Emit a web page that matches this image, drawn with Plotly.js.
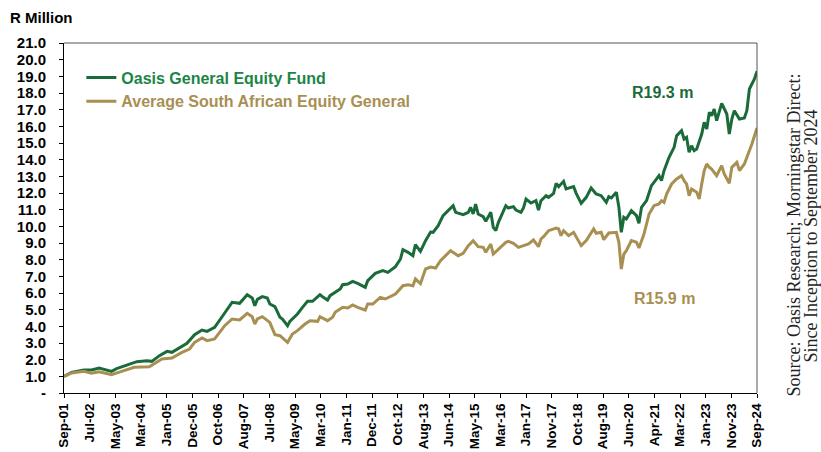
<!DOCTYPE html>
<html>
<head>
<meta charset="utf-8">
<script src="https://cdn.plot.ly/plotly-3.0.1.min.js"></script>
<style>html,body{margin:0;padding:0;background:#fff;}#chart{width:821px;height:452px;}</style>
</head>
<body>
<div id="chart"></div>
<script>
// Months elapsed since Sep-2001 and values (R million)
const fundMonths = [0,3,8,11,14,19,21,26,29,33,35,38,41,43,46,49,52,55,57,60,64,67,70,73,75,76,77,79,81,82,84,86,87,89,90,93,95,97,99,102,103,105,106,108,110,111,113,115,117,120,121,124,127,129,132,134,135,137,139,140,142,144,146,147,149,151,153,155,156,159,161,162,163,164,165,167,168,170,171,172,173,176,177,179,180,182,183,184,186,188,189,190,192,193,195,196,197,199,200,203,204,206,208,210,212,214,216,217,218,220,221,222,223,224,226,228,229,230,232,234,235,237,238,239,241,243,244,246,247,248,249,250,251,252,254,255,256,257,258,259,260,261,262,264,265,266,267,269,271,272,273,275,276];
const fundValues = [1.0,1.24,1.38,1.38,1.5,1.3,1.46,1.7,1.88,1.94,1.9,2.24,2.5,2.44,2.7,2.98,3.5,3.78,3.7,3.94,4.8,5.44,5.38,5.9,5.7,5.24,5.62,5.78,5.7,5.34,5.18,4.54,4.44,4.04,4.3,4.74,5.14,5.5,5.5,5.9,5.78,5.58,5.84,6.04,6.24,6.5,6.54,6.7,6.58,6.34,6.74,7.18,7.34,7.24,7.58,8.04,8.6,8.44,8.24,8.9,8.5,9.14,9.66,9.64,10.04,10.64,10.94,11.24,10.84,10.7,10.84,11.14,10.74,11.34,10.74,10.58,10.3,10.84,9.94,9.74,10.24,11.24,11.1,11.18,10.98,10.84,11.1,11.64,11.4,11.54,10.98,11.54,11.84,11.74,11.98,12.58,12.38,12.7,12.24,12.38,11.98,11.38,11.74,12.3,11.94,11.84,11.44,11.78,11.7,12.04,11.14,9.64,10.54,10.44,10.94,10.64,10.18,11.14,11.54,12.44,12.64,13.04,12.74,13.34,14.14,14.74,15.44,15.74,15.24,15.34,14.44,14.84,14.54,14.64,15.54,16.24,15.84,16.84,16.64,17.04,16.34,16.84,17.38,16.74,15.54,16.44,16.94,16.44,16.5,16.94,18.24,18.84,19.3];

const peerMonths = [0,3,8,11,14,19,23,28,34,39,43,47,50,52,55,57,60,64,67,70,73,75,76,77,79,82,84,86,89,91,93,96,98,101,102,105,107,108,111,113,115,117,120,121,123,126,128,132,135,137,139,140,142,144,146,148,150,152,154,157,159,161,163,165,167,168,170,171,173,176,177,179,181,183,185,187,189,190,191,193,196,197,198,199,201,203,206,208,211,212,214,215,217,220,221,222,223,224,226,228,229,231,233,235,237,238,239,240,242,244,246,247,248,249,250,252,253,254,255,256,257,258,260,262,263,265,266,268,269,271,272,274,276];
const peerValues = [1.0,1.2,1.3,1.18,1.28,1.1,1.3,1.54,1.58,2.04,2.1,2.44,2.64,3.04,3.3,3.14,3.24,4.04,4.44,4.38,4.78,4.58,4.14,4.44,4.58,4.24,3.5,3.44,3.04,3.54,3.74,4.14,4.34,4.3,4.58,4.34,4.54,4.84,5.14,5.1,5.28,5.14,4.98,5.34,5.34,5.74,5.64,5.94,6.44,6.5,6.44,6.84,6.56,7.44,7.56,7.5,7.94,8.24,8.54,8.24,8.38,8.84,9.14,8.78,8.74,8.44,8.94,8.34,8.64,9.04,9.1,8.98,8.74,8.84,8.94,9.18,8.78,9.24,9.38,9.74,9.9,9.84,9.44,9.74,9.44,9.64,8.84,9.14,9.84,9.58,9.64,9.2,9.6,9.64,9.04,7.44,8.34,8.54,9.14,9.04,8.7,9.54,10.74,11.24,11.34,11.54,11.44,11.94,12.54,12.84,13.04,12.74,12.54,11.84,12.24,12.04,11.64,12.54,13.34,13.74,13.54,13.44,13.04,13.64,13.14,12.58,13.54,13.84,13.34,13.74,14.14,14.94,15.9];

const seriesNames = ['Oasis General Equity Fund', 'Average South African Equity General'];
const xTickLabels = ['Sep-01','Jul-02','May-03','Mar-04','Jan-05','Dec-05','Oct-06','Aug-07','Jul-08','May-09','Mar-10','Jan-11','Dec-11','Oct-12','Aug-13','Jun-14','May-15','Mar-16','Jan-17','Nov-17','Oct-18','Aug-19','Jun-20','Apr-21','Mar-22','Jan-23','Nov-23','Sep-24'];
const yTickVals = [0,1,2,3,4,5,6,7,8,9,10,11,12,13,14,15,16,17,18,19,20,21];
const yTickLabels = yTickVals.map(v => v === 0 ? '-' : v.toFixed(1));
const endLabels = ['R19.3 m', 'R15.9 m'];
const sourceLines = ['Source: Oasis Research; Morningstar Direct:', 'Since Inception to September 2024'];

const GREEN = '#1b6b3a', GREEN_TXT = '#1b8447', GOLD = '#a88f52';
const start = new Date(Date.UTC(2001, 8, 1));
function monthToDate(m) {
  const d = new Date(start.getTime());
  d.setUTCMonth(d.getUTCMonth() + m);
  return d.toISOString().slice(0, 10);
}
const endDate = monthToDate(276);
const t0 = start.getTime(), t1 = new Date(endDate + 'T00:00:00Z').getTime();
const tickVals = xTickLabels.map((_, i) => new Date(t0 + (t1 - t0) * i / (xTickLabels.length - 1)).toISOString().slice(0, 19).replace('T', ' '));

const boldFont = {family: 'Liberation Sans, Arial, sans-serif', weight: 'bold', color: '#000'};
const serifFont = {family: 'Liberation Serif, Times New Roman, serif', size: 18, color: '#222'};

const traces = [
  {x: fundMonths.map(monthToDate), y: fundValues, mode: 'lines', type: 'scatter',
   name: '<span style="color:' + GREEN_TXT + '">' + seriesNames[0] + '</span>',
   line: {color: GREEN, width: 3}},
  {x: peerMonths.map(monthToDate), y: peerValues, mode: 'lines', type: 'scatter',
   name: '<span style="color:' + GOLD + '">' + seriesNames[1] + '</span>',
   line: {color: GOLD, width: 3}}
];

const layout = {
  width: 821, height: 452,
  margin: {l: 64, r: 64, t: 43, b: 59},
  paper_bgcolor: '#fff', plot_bgcolor: '#fff',
  showlegend: true,
  legend: {x: 0.025, y: 0.95, xanchor: 'left', yanchor: 'top', bgcolor: 'rgba(0,0,0,0)',
           font: Object.assign({}, boldFont, {size: 16}), tracegroupgap: 0},
  xaxis: {type: 'date', range: [monthToDate(0), endDate], tickvals: tickVals, ticktext: xTickLabels,
          tickangle: -90, ticks: 'outside', ticklen: 4, tickcolor: '#000', showgrid: false, zeroline: false,
          showline: true, linecolor: '#000', linewidth: 1, tickfont: Object.assign({}, boldFont, {size: 13.5})},
  yaxis: {range: [0, 21], tickvals: yTickVals, ticktext: yTickLabels, ticks: 'outside', ticklen: 4,
          tickcolor: '#000', showgrid: false, zeroline: false, showline: true, linecolor: '#000', linewidth: 1,
          ticklabelstandoff: 10, tickfont: Object.assign({}, boldFont, {size: 15})},
  shapes: [
    {type: 'line', xref: 'paper', yref: 'paper', x0: 0, x1: 1, y0: 1, y1: 1, line: {color: '#555', width: 1}},
    {type: 'line', xref: 'paper', yref: 'paper', x0: 1, x1: 1, y0: 0, y1: 1, line: {color: '#555', width: 1}}
  ],
  annotations: [
    {text: 'R Million', xref: 'paper', yref: 'paper', x: -0.081, y: 1.074, xanchor: 'left', yanchor: 'middle',
     showarrow: false, font: Object.assign({}, boldFont, {size: 15})},
    {text: endLabels[0], xref: 'paper', yref: 'paper', x: 0.864, y: 0.86, xanchor: 'center', yanchor: 'middle',
     showarrow: false, font: Object.assign({}, boldFont, {size: 16, color: GREEN})},
    {text: endLabels[1], xref: 'paper', yref: 'paper', x: 0.867, y: 0.271, xanchor: 'center', yanchor: 'middle',
     showarrow: false, font: Object.assign({}, boldFont, {size: 16, color: GOLD})},
    {text: sourceLines[0], xref: 'paper', yref: 'paper', x: (793 - 64) / 693, y: 0.45, xanchor: 'center', yanchor: 'middle',
     textangle: -90, showarrow: false, font: serifFont},
    {text: sourceLines[1], xref: 'paper', yref: 'paper', x: (810 - 64) / 693, y: 0.45, xanchor: 'center', yanchor: 'middle',
     textangle: -90, showarrow: false, font: serifFont}
  ]
};

Plotly.newPlot('chart', traces, layout, {displayModeBar: false, staticPlot: true});
</script>
</body>
</html>
